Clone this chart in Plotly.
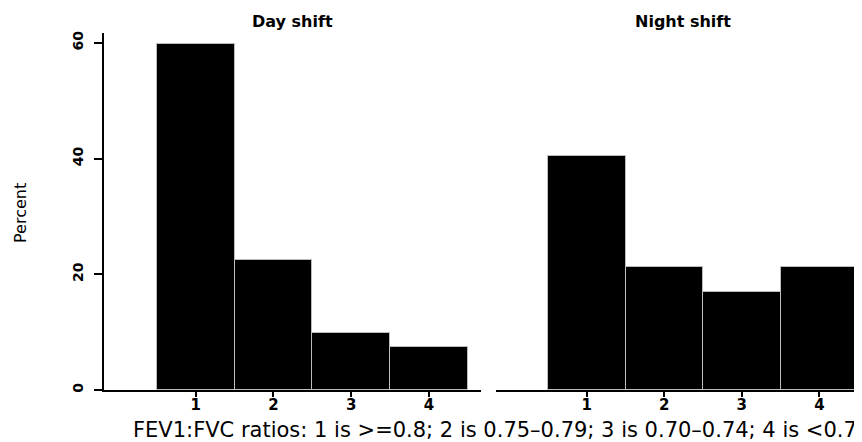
import plotly.graph_objects as go

categories = [1, 2, 3, 4]
tick_labels = ["1", "2", "3", "4"]
day_percent = [59.8, 22.5, 9.8, 7.5]
night_percent = [40.4, 21.3, 17.0, 21.3]
y_ticks = [0, 20, 40, 60]
panel_titles = ["Day shift", "Night shift"]
x_title = "FEV1:FVC ratios: 1 is >=0.8; 2 is 0.75\u20130.79; 3 is 0.70\u20130.74; 4 is <0.7"
y_title = "Percent"

# page body has an 8px margin; figure is sized so it fills the rest of the window
OFF = 8
W, H = 862 - OFF, 442 - OFF
FONT = "DejaVu Sans"


def px(x):
    return (x - OFF) / W


def py(y):
    return (H - (y - OFF)) / H


bar_style = dict(marker=dict(color="black", line=dict(color="#bdbdbd", width=1)),
                 width=1.0, showlegend=False, hoverinfo="x+y")

fig = go.Figure()
fig.add_trace(go.Bar(x=categories, y=day_percent, xaxis="x", yaxis="y", **bar_style))
fig.add_trace(go.Bar(x=categories, y=night_percent, xaxis="x2", yaxis="y2", **bar_style))

y_dom = [py(390), py(33)]
y_rng = [0, 61.7]

xcommon = dict(tickvals=categories, ticktext=tick_labels, ticks="outside", ticklen=5,
               tickwidth=1.5, tickcolor="black", showline=True, linecolor="black",
               linewidth=1.5, showgrid=False, zeroline=False, automargin=False,
               ticklabelstandoff=-5,
               tickfont=dict(family=FONT, size=15, color="black", weight="bold"),
               fixedrange=True)

fig.update_layout(
    width=W, height=H,
    margin=dict(l=0, r=0, t=0, b=0),
    paper_bgcolor="white", plot_bgcolor="white",
    bargap=0,
    xaxis=dict(domain=[px(104), px(481)], range=[-0.18, 4.67], anchor="y", **xcommon),
    xaxis2=dict(domain=[px(496), 1.0], range=[-0.17, 4.55], anchor="y2", **xcommon),
    yaxis=dict(domain=y_dom, range=y_rng, anchor="x", tickvals=y_ticks, ticks="outside",
               ticklen=8, tickwidth=1.5, tickcolor="black", tickangle=-90,
               ticklabelstandoff=6,
               showline=True, linecolor="black", linewidth=1.5, showgrid=False,
               zeroline=False, automargin=False, fixedrange=True,
               tickfont=dict(family=FONT, size=14, color="black", weight="bold")),
    yaxis2=dict(domain=y_dom, range=y_rng, anchor="x2", showticklabels=False,
                showline=False, showgrid=False, zeroline=False, ticks="", fixedrange=True),
    annotations=[
        dict(text=panel_titles[0], x=px(292.5), y=py(21), xref="paper", yref="paper",
             showarrow=False, xanchor="center", yanchor="middle",
             font=dict(family=FONT, size=16, color="black", weight="bold")),
        dict(text=panel_titles[1], x=px(683), y=py(21), xref="paper", yref="paper",
             showarrow=False, xanchor="center", yanchor="middle",
             font=dict(family=FONT, size=16, color="black", weight="bold")),
        dict(text=x_title, x=px(495), y=py(430), xref="paper", yref="paper",
             showarrow=False, xanchor="center", yanchor="middle",
             font=dict(family=FONT, size=21, color="black")),
        dict(text=y_title, x=px(20), y=py(213), xref="paper", yref="paper",
             showarrow=False, xanchor="center", yanchor="middle", textangle=-90,
             font=dict(family=FONT, size=16, color="black")),
    ],
)

fig.write_html("out.html")
